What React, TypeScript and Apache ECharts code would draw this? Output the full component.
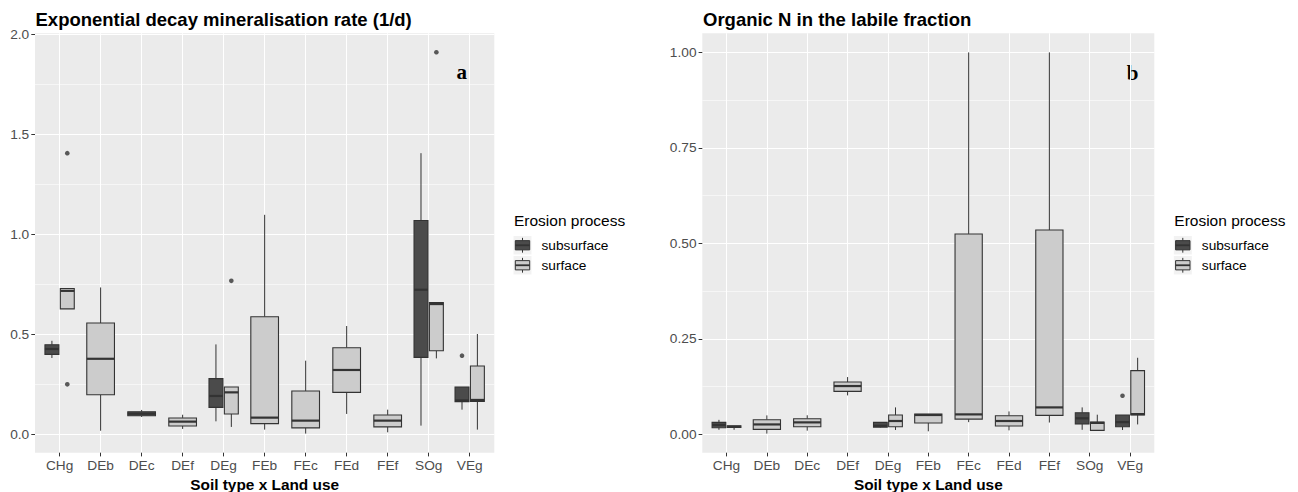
import React, { useEffect, useRef } from "react";
import * as echarts from "echarts";

// ---------- data ----------
const categories = ["CHg", "DEb", "DEc", "DEf", "DEg", "FEb", "FEc", "FEd", "FEf", "SOg", "VEg"];
const groups = ["subsurface", "surface"];

const rateTicks = [0, 0.5, 1, 1.5, 2];
const rateMinorTicks = [0.25, 0.75, 1.25, 1.75];
const nTicks = [0, 0.25, 0.5, 0.75, 1];
const nMinorTicks = [0.125, 0.375, 0.625, 0.875];

// [lower whisker, Q1, median, Q3, upper whisker]
const rateSubsurface: (number[] | null)[] = [
  [0.382, 0.4, 0.427, 0.4485, 0.468],
  null,
  [0.087, 0.093, 0.103, 0.113, 0.122],
  null,
  [0.065, 0.135, 0.192, 0.2785, 0.45],
  null,
  null,
  null,
  null,
  [0.0435, 0.385, 0.7235, 1.07, 1.407],
  [0.1235, 0.1635, 0.17, 0.237, 0.237],
];
const rateSurface: (number[] | null)[] = [
  [0.628, 0.628, 0.718, 0.73, 0.73],
  [0.018, 0.198, 0.378, 0.557, 0.735],
  null,
  [0.027, 0.042, 0.0635, 0.082, 0.098],
  [0.037, 0.102, 0.21, 0.237, 0.237],
  [0.0235, 0.0535, 0.0835, 0.5885, 1.0985],
  [0.0035, 0.032, 0.0685, 0.217, 0.3685],
  [0.102, 0.21, 0.322, 0.4335, 0.542],
  [0.01, 0.037, 0.0685, 0.097, 0.1235],
  [0.38, 0.4185, 0.652, 0.66, 0.66],
  [0.0235, 0.165, 0.172, 0.342, 0.502],
];
const rateSubsurfaceOutliers: number[][] = [[], [], [], [], [], [], [], [], [], [], [0.3935]];
const rateSurfaceOutliers: number[][] = [[0.25, 1.407], [], [], [], [0.768], [], [], [], [], [1.912], []];

const nSubsurface: (number[] | null)[] = [
  [0.012, 0.0175, 0.0245, 0.0314, 0.038],
  null,
  null,
  null,
  [0.018, 0.019, 0.0225, 0.0314, 0.0314],
  null,
  null,
  null,
  null,
  [0.012, 0.027, 0.042, 0.0567, 0.0706],
  [0.0115, 0.02, 0.032, 0.0507, 0.0507],
];
const nSurface: (number[] | null)[] = [
  [0.012, 0.018, 0.02, 0.0227, 0.0227],
  [0.002, 0.013, 0.026, 0.0384, 0.0497],
  [0.0097, 0.02, 0.0314, 0.041, 0.05],
  [0.102, 0.1125, 0.1265, 0.137, 0.15],
  [0.0115, 0.02, 0.035, 0.0507, 0.0706],
  [0.008, 0.0298, 0.0507, 0.0533, 0.0533],
  [0.032, 0.04, 0.0523, 0.5247, 1.0],
  [0.0105, 0.022, 0.035, 0.0489, 0.06],
  [0.031, 0.0497, 0.0706, 0.535, 1.0],
  [0.0105, 0.0105, 0.03, 0.032, 0.0515],
  [0.026, 0.0507, 0.053, 0.167, 0.2005],
];
const nSubsurfaceOutliers: number[][] = [[], [], [], [], [], [], [], [], [], [], [0.101]];
const nSurfaceOutliers: number[][] = [[], [], [], [], [], [], [], [], [], [], []];

// ---------- styles ----------
const FILL = { subsurface: "#4B4B4B", surface: "#CCCCCC" } as Record<string, string>;
const LINE = "#333333";
const PANEL_BG = "#EBEBEB";
const AXIS_TEXT = "#4D4D4D";
const FONT = "Liberation Sans, Arial, Helvetica, sans-serif";

function dodge(sub: (number[] | null)[], surf: (number[] | null)[], subOut: number[][], surfOut: number[][]) {
  const res = { subBox: [] as number[][], surfBox: [] as number[][], subPts: [] as number[][], surfPts: [] as number[][] };
  categories.forEach((_, i) => {
    const both = !!sub[i] && !!surf[i];
    const w = both ? 0.34 : 0.675;
    const xs = both ? i + 1 - 0.1875 : i + 1;
    const xf = both ? i + 1 + 0.1875 : i + 1;
    if (sub[i]) res.subBox.push([xs, ...(sub[i] as number[]), w]);
    if (surf[i]) res.surfBox.push([xf, ...(surf[i] as number[]), w]);
    subOut[i].forEach((v) => res.subPts.push([xs, v]));
    surfOut[i].forEach((v) => res.surfPts.push([xf, v]));
  });
  return res;
}

const renderBox = (_params: any, api: any) => {
  const x = api.value(0);
  const lo = api.value(1);
  const q1 = api.value(2);
  const med = api.value(3);
  const q3 = api.value(4);
  const hi = api.value(5);
  const w = api.value(6);
  const tl = api.coord([x - w / 2, q3]);
  const br = api.coord([x + w / 2, q1]);
  const pHi = api.coord([x, hi]);
  const pLo = api.coord([x, lo]);
  const pMed = api.coord([x, med]);
  const fill = api.visual("color");
  return {
    type: "group",
    children: [
      { type: "line", shape: { x1: pHi[0], y1: pHi[1], x2: pHi[0], y2: tl[1] }, style: { stroke: LINE, lineWidth: 1 } },
      { type: "line", shape: { x1: pLo[0], y1: br[1], x2: pLo[0], y2: pLo[1] }, style: { stroke: LINE, lineWidth: 1 } },
      {
        type: "rect",
        shape: { x: tl[0], y: tl[1], width: br[0] - tl[0], height: br[1] - tl[1] },
        style: { fill, stroke: LINE, lineWidth: 1.1 },
      },
      { type: "line", shape: { x1: tl[0], y1: pMed[1], x2: br[0], y2: pMed[1] }, style: { stroke: LINE, lineWidth: 2.2 } },
    ],
  };
};

function legendGraphics(x: number) {
  const els: any[] = [
    {
      type: "text",
      style: { x, y: 212, text: "Erosion process", font: `15.5px ${FONT}`, fill: "#000", verticalAlign: "top" },
    },
  ];
  groups.forEach((g, k) => {
    const y0 = 236 + k * 20;
    const kw = 18;
    const kh = 18.5;
    els.push({ type: "rect", shape: { x: x - 0.5, y: y0, width: kw, height: kh }, style: { fill: "#F2F2F2" } });
    const bx0 = x - 0.5 + kw * 0.1;
    const bx1 = x - 0.5 + kw * 0.9;
    const cx = x - 0.5 + kw / 2;
    els.push({ type: "line", shape: { x1: cx, y1: y0 + kh * 0.1, x2: cx, y2: y0 + kh * 0.25 }, style: { stroke: LINE, lineWidth: 1 } });
    els.push({ type: "line", shape: { x1: cx, y1: y0 + kh * 0.75, x2: cx, y2: y0 + kh * 0.9 }, style: { stroke: LINE, lineWidth: 1 } });
    els.push({
      type: "rect",
      shape: { x: bx0, y: y0 + kh * 0.25, width: bx1 - bx0, height: kh * 0.5 },
      style: { fill: FILL[g], stroke: LINE, lineWidth: 1 },
    });
    els.push({ type: "line", shape: { x1: bx0, y1: y0 + kh / 2, x2: bx1, y2: y0 + kh / 2 }, style: { stroke: LINE, lineWidth: 1.8 } });
    els.push({
      type: "text",
      style: { x: x + 27.5, y: y0 + 9.5, text: g, font: `13.7px ${FONT}`, fill: "#000", verticalAlign: "middle" },
    });
  });
  return els;
}

function xAxisCfg(gridIndex: number) {
  return {
    type: "value",
    gridIndex,
    min: 0.4,
    max: 11.6,
    axisLine: { show: false, onZero: false },
    axisTick: {
      show: true,
      length: 3.7,
      lineStyle: { color: LINE, width: 1 },
      customValues: categories.map((_, i) => i + 1),
    },
    axisLabel: {
      customValues: categories.map((_, i) => i + 1),
      formatter: (v: number) => categories[Math.round(v) - 1] ?? "",
      color: AXIS_TEXT,
      fontSize: 13.7,
      fontFamily: FONT,
      margin: 5.5,
    },
    splitLine: { show: true, lineStyle: { color: "#FFFFFF", width: 1.07 } },
    name: "Soil type x Land use",
    nameLocation: "middle",
    nameGap: 21,
    nameTextStyle: { color: "#000", fontSize: 15.4, fontWeight: "bold", fontFamily: FONT },
  };
}

function yAxisMajor(gridIndex: number, min: number, max: number, ticks: number[], digits: number) {
  return {
    type: "value",
    gridIndex,
    position: "left",
    min,
    max,
    axisLine: { show: false, onZero: false },
    axisTick: { show: true, length: 3.7, lineStyle: { color: LINE, width: 1 }, customValues: ticks },
    axisLabel: {
      customValues: ticks,
      formatter: (v: number) => v.toFixed(digits),
      color: AXIS_TEXT,
      fontSize: 13.7,
      fontFamily: FONT,
      margin: 5.8,
    },
    splitLine: { show: true, lineStyle: { color: "#FFFFFF", width: 1.07 } },
  };
}

function yAxisMinor(gridIndex: number, min: number, max: number, ticks: number[]) {
  return {
    type: "value",
    gridIndex,
    position: "left",
    min,
    max,
    axisLine: { show: false, onZero: false },
    axisTick: { show: false, customValues: ticks },
    axisLabel: { show: false, customValues: ticks },
    splitLine: { show: true, lineStyle: { color: "#FFFFFF", width: 0.55 } },
  };
}

export default function App() {
  const ref = useRef<HTMLDivElement>(null);
  useEffect(() => {
    if (!ref.current) return;
    const chart = echarts.init(ref.current, undefined, { renderer: "svg" });
    const L = dodge(rateSubsurface, rateSurface, rateSubsurfaceOutliers, rateSurfaceOutliers);
    const R = dodge(nSubsurface, nSurface, nSubsurfaceOutliers, nSurfaceOutliers);

    const boxSeries = (name: string, data: number[][], xi: number, yi: number) => ({
      type: "custom",
      name,
      xAxisIndex: xi,
      yAxisIndex: yi,
      renderItem: renderBox,
      itemStyle: { color: FILL[name] },
      encode: { x: 0, y: [1, 2, 3, 4, 5] },
      data,
      z: 3,
      silent: true,
    });
    const ptSeries = (data: number[][], xi: number, yi: number) => ({
      type: "scatter",
      xAxisIndex: xi,
      yAxisIndex: yi,
      symbol: "circle",
      symbolSize: 4.6,
      itemStyle: { color: LINE },
      data,
      z: 4,
      silent: true,
    });

    const gridBase = {
      show: true,
      backgroundColor: PANEL_BG,
      borderWidth: 0,
      containLabel: false,
      outerBoundsMode: "none",
    };

    chart.setOption({
      animation: false,
      backgroundColor: "#FFFFFF",
      grid: [
        { ...gridBase, left: 35, top: 33.3, width: 459.3, height: 419.4 },
        { ...gridBase, left: 702.3, top: 33.3, width: 452, height: 419.4 },
      ],
      xAxis: [xAxisCfg(0), xAxisCfg(1)],
      yAxis: [
        yAxisMajor(0, -0.092, 2.007, rateTicks, 1),
        yAxisMinor(0, -0.092, 2.007, rateMinorTicks),
        yAxisMajor(1, -0.048, 1.05, nTicks, 2),
        yAxisMinor(1, -0.048, 1.05, nMinorTicks),
      ],
      series: [
        boxSeries("subsurface", L.subBox, 0, 0),
        boxSeries("surface", L.surfBox, 0, 0),
        ptSeries(L.subPts, 0, 0),
        ptSeries(L.surfPts, 0, 0),
        boxSeries("subsurface", R.subBox, 1, 2),
        boxSeries("surface", R.surfBox, 1, 2),
        ptSeries(R.subPts, 1, 2),
        ptSeries(R.surfPts, 1, 2),
      ],
      graphic: [
        {
          type: "text",
          style: {
            x: 35.5,
            y: 10,
            text: "Exponential decay mineralisation rate (1/d)",
            font: `bold 18.5px ${FONT}`,
            fill: "#000",
            verticalAlign: "top",
          },
        },
        {
          type: "text",
          style: {
            x: 703,
            y: 10,
            text: "Organic N in the labile fraction",
            font: `bold 18.5px ${FONT}`,
            fill: "#000",
            verticalAlign: "top",
          },
        },
        {
          type: "text",
          style: {
            x: 461.7,
            y: 72,
            text: "a",
            font: `bold 21px "Liberation Serif", "Times New Roman", serif`,
            fill: "#000",
            align: "center",
            verticalAlign: "middle",
          },
        },
        {
          type: "text",
          style: {
            x: 1132.7,
            y: 72.6,
            text: "b",
            font: `bold 21px "Liberation Serif", "Times New Roman", serif`,
            fill: "#000",
            align: "center",
            verticalAlign: "middle",
          },
        },
        ...legendGraphics(514),
        ...legendGraphics(1174.3),
      ],
    });
    return () => chart.dispose();
  }, []);
  return (
    <div
      ref={ref}
      style={{ position: "absolute", left: 0, top: 0, width: 1298, height: 492, background: "#FFFFFF" }}
    />
  );
}
